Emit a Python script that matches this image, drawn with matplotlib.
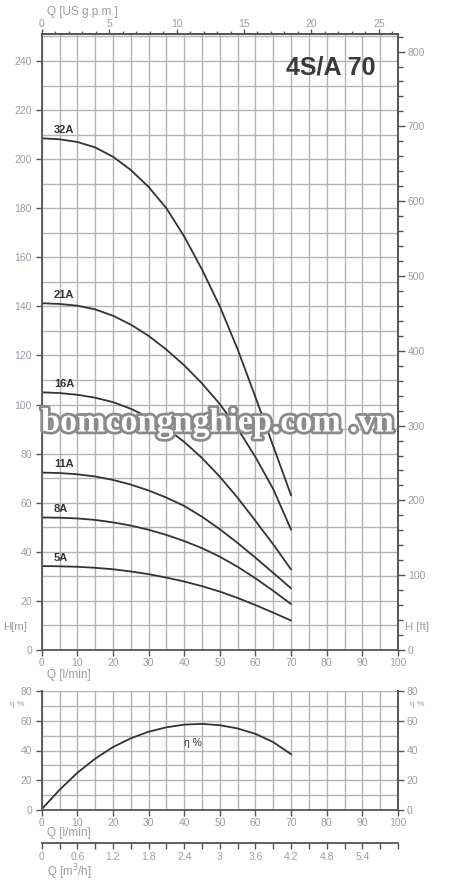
import numpy as np
import matplotlib
matplotlib.use('Agg')
import matplotlib.pyplot as plt
import matplotlib.patheffects as pe
from matplotlib.ticker import MultipleLocator, FormatStrFormatter

plt.rcParams['font.family'] = ['Liberation Sans', 'DejaVu Sans']

# ------------------- data -------------------
Q = [0, 5, 10, 15, 20, 25, 30, 35, 40, 45, 50, 55, 60, 65, 70]  # l/min
H_32A = [208.5, 208.1, 207, 204.8, 201, 195.6, 188.7, 180, 168.5, 155, 140, 122.5, 103, 83, 63]
H_21A = [141.3, 141, 140.3, 138.8, 136.2, 132.6, 128, 122.4, 116, 108.6, 100.2, 90.2, 78.6, 65.5, 49]
H_16A = [105, 104.7, 104, 102.8, 101, 98.3, 94.8, 90.3, 84.8, 78.2, 70.6, 62, 52.6, 43, 32.8]
H_11A = [72.3, 72.1, 71.6, 70.7, 69.3, 67.4, 65, 62.1, 58.7, 54.3, 49.2, 43.6, 37.6, 31.4, 25.1]
H_8A = [54, 53.9, 53.6, 53, 52, 50.7, 49, 46.9, 44.4, 41.5, 38, 33.9, 29.2, 24.1, 18.7]
H_5A = [34.2, 34.1, 33.9, 33.5, 32.9, 32, 30.9, 29.5, 27.9, 26, 23.8, 21.2, 18.3, 15.2, 12]
MODELS = ['32A', '21A', '16A', '11A', '8A', '5A']
CURVES = [H_32A, H_21A, H_16A, H_11A, H_8A, H_5A]
ETA = [0.5, 13.5, 25, 34.5, 42.3, 48.2, 52.6, 55.6, 57.4, 57.9, 57, 54.8, 51.2, 45.6, 37.5]

M3H_TICKS = [0, 0.6, 1.2, 1.8, 2.4, 3, 3.6, 4.2, 4.8, 5.4]
TITLE = '4S/A 70'
WATERMARK = 'bomcongnghiep.com .vn'

# ------------------- styles -------------------
TXT = '#9c9ca6'
GRID = '#b3b3b3'
SPINE = '#555555'
LINE = '#333333'
W, H = 450, 880


def rect(l, t, r, b):
    return [l / W, 1 - b / H, (r - l) / W, (b - t) / H]


def style_axes(a):
    for s in a.spines.values():
        s.set_color(SPINE)
        s.set_linewidth(1.3)
    a.tick_params(which='both', direction='out', colors=SPINE, labelcolor=TXT,
                  labelsize=7.5, width=1, length=4, pad=2)


fig = plt.figure(figsize=(4.5, 8.8), dpi=100)

# ------------------- H-Q chart -------------------
ax = fig.add_axes(rect(41.7, 34, 398, 650))
ax.set_xlim(0, 100)
ax.set_ylim(0, 251)
ax.xaxis.set_major_locator(MultipleLocator(10))
ax.xaxis.set_minor_locator(MultipleLocator(5))
ax.yaxis.set_major_locator(MultipleLocator(20))
ax.yaxis.set_minor_locator(MultipleLocator(10))
ax.grid(which='both', color=GRID, lw=1.0)
ax.set_axisbelow(True)
style_axes(ax)
ax.tick_params(which='minor', length=0)
ax.tick_params(axis='y', pad=3)

for name, h in zip(MODELS, CURVES):
    ax.plot(Q, h, color=LINE, lw=1.3, solid_capstyle='round')
    ax.text(3.4, h[0] + 3.3, name, fontsize=8, fontweight='bold', color=LINE,
            ha='left', va='center')

ax.text(0.81, 0.945, TITLE, transform=ax.transAxes, fontsize=18, fontweight='bold',
        color='#3a3a3a', ha='center', va='center')

# right axis in feet
sec_y = ax.secondary_yaxis('right', functions=(lambda m: m / 0.3048, lambda f: f * 0.3048))
sec_y.yaxis.set_major_locator(MultipleLocator(100))
sec_y.yaxis.set_minor_locator(MultipleLocator(20))
style_axes(sec_y)
sec_y.tick_params(which='major', length=5)
sec_y.tick_params(which='minor', length=3.5)

# top axis in US gpm
sec_x = ax.secondary_xaxis('top', functions=(lambda q: q / 3.785, lambda g: g * 3.785))
sec_x.xaxis.set_major_locator(MultipleLocator(5))
sec_x.xaxis.set_minor_locator(MultipleLocator(1))
style_axes(sec_x)
sec_x.tick_params(which='major', length=3.5, pad=0)
sec_x.tick_params(which='minor', length=2.2)

fig.text(3 / W, 1 - 627 / H, 'H[m]', fontsize=8.2, color=TXT, ha='left', va='center')
fig.text(405 / W, 1 - 627 / H, 'H [ft]', fontsize=8.2, color=TXT, ha='left', va='center')
fig.text(47 / W, 1 - 675 / H, 'Q [l/min]', fontsize=8.5, color=TXT, ha='left', va='center')
fig.text(47 / W, 1 - 12 / H, 'Q [US g.p.m.]', fontsize=8.5, color=TXT, ha='left', va='center')

# watermark
fig.text(217 / W, 1 - 423 / H, WATERMARK, fontsize=24.5, fontweight='bold',
         family='Liberation Serif', color='white', ha='center', va='center',
         path_effects=[pe.withStroke(linewidth=4, foreground='#8a8a8a')])

# ------------------- efficiency chart -------------------
ax2 = fig.add_axes(rect(41.7, 691, 398, 810))
ax2.set_xlim(0, 100)
ax2.set_ylim(0, 80)
ax2.xaxis.set_major_locator(MultipleLocator(10))
ax2.xaxis.set_minor_locator(MultipleLocator(5))
ax2.yaxis.set_major_locator(MultipleLocator(20))
ax2.yaxis.set_minor_locator(MultipleLocator(10))
ax2.grid(which='both', color=GRID, lw=1.0)
ax2.set_axisbelow(True)
style_axes(ax2)
ax2.tick_params(which='minor', length=0)
ax2.tick_params(axis='y', pad=3)
ax2.spines['top'].set_visible(False)
ax2.plot(Q, ETA, color=LINE, lw=1.3)
ax2.text(42.5, 45, 'η %', fontsize=7.5, color=LINE, ha='center', va='center')

sec_e = ax2.secondary_yaxis('right', functions=(lambda v: v, lambda v: v))
sec_e.yaxis.set_major_locator(MultipleLocator(20))
style_axes(sec_e)

fig.text(10 / W, 1 - 704 / H, 'η %', fontsize=6, color=TXT, ha='left', va='center')
fig.text(410 / W, 1 - 704 / H, 'η %', fontsize=6, color=TXT, ha='left', va='center')
fig.text(47 / W, 1 - 833 / H, 'Q [l/min]', fontsize=8.5, color=TXT, ha='left', va='center')

# ------------------- m3/h scale -------------------
ax3 = fig.add_axes(rect(41.7, 842.7, 398, 842.7))
ax3.set_yticks([])
for s in ['left', 'right', 'top']:
    ax3.spines[s].set_visible(False)
style_axes(ax3)
ax3.set_xticks(M3H_TICKS)
ax3.xaxis.set_major_formatter(FormatStrFormatter('%g'))
ax3.xaxis.set_minor_locator(MultipleLocator(0.3))
ax3.set_xlim(0, 6)
ax3.tick_params(which='both', length=4.5)
ax3.tick_params(pad=2.5)
fig.text(47 / W, 1 - 872.5 / H, 'Q [m$^3$/h]', fontsize=8.3, color=TXT, ha='left', va='center')

fig.savefig('out.png', dpi=100, facecolor='white')
